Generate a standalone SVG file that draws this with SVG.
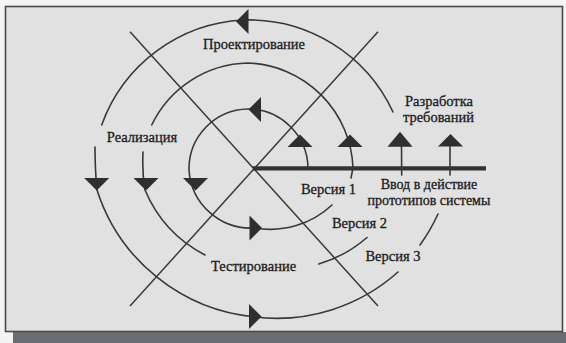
<svg xmlns="http://www.w3.org/2000/svg" xmlns:xlink="http://www.w3.org/1999/xlink" width="566" height="343" viewBox="0 0 566 343">
<style>
.ln{fill:none;stroke:#38383a;stroke-width:1.6;stroke-linecap:round}
.dg{fill:none;stroke:#3a3a3c;stroke-width:1.5}
.ax{fill:none;stroke:#333335;stroke-width:4.2}
.ar{fill:#2f2f31}
.t{font-family:"Liberation Serif","Times New Roman",serif;font-size:14.5px;fill:#1c1c1c;stroke:#1c1c1c;stroke-width:0.3;text-anchor:middle}
.s{font-size:14px}
</style>
<defs>
<path id="tri" d="M0,-6.5 L12.5,6 L-12.5,6 Z"/>
</defs>
<rect x="0" y="0" width="566" height="343" fill="#f4f4f4"/>
<rect x="13" y="332" width="553" height="11" fill="#6a6c71"/>
<g id="frame"><rect x="5.5" y="6.5" width="557" height="325" fill="#e1e1e1" stroke="#4a4a4c" stroke-width="1.6"/></g>
<g id="axes">
<line class="dg" x1="130" y1="31.7" x2="378" y2="306"/>
<line class="dg" x1="378" y1="31.7" x2="130" y2="306"/>
<line class="ax" x1="253" y1="168.3" x2="486" y2="168.3"/>
</g>
<g id="connectors">
<path class="ln" d="M308,168 A60,60 0 0 0 248,109 A60,60 0 0 0 189,170 A62,62 0 0 0 255,228 A90,90 0 0 0 332,205"/>
<path class="ln" d="M351,178 L353,168 A109,109 0 0 0 248,63 A109,109 0 0 0 151.7,125"/>
<path class="ln" d="M143,152 Q142,172 145,190 A130,130 0 0 0 205,255"/>
<path class="ln" d="M318.7,264 A130,130 0 0 0 367,237.5"/>
<path class="ln" d="M401.7,175 L401.5,146"/>
<path class="ln" d="M393,112 A159,159 0 0 0 243,20 A159,159 0 0 0 101.7,125"/>
<path class="ln" d="M95,147 Q95,170 97,190 A184,184 0 0 0 255,317 A182,182 0 0 0 398,272"/>
<path class="ln" d="M420,245 A184,184 0 0 0 438,214"/>
<path class="ln" d="M450,175 L450,146"/>
</g>
<g id="arrows" class="ar">
<use xlink:href="#tri" transform="translate(300,141)"/>
<use xlink:href="#tri" transform="translate(350,141)"/>
<use xlink:href="#tri" transform="translate(400,139.5) scale(1,1.2)"/>
<use xlink:href="#tri" transform="translate(450.5,140.5)"/>
<use xlink:href="#tri" transform="translate(96.7,184) rotate(180)"/>
<use xlink:href="#tri" transform="translate(146,184) rotate(180)"/>
<use xlink:href="#tri" transform="translate(195.5,184) rotate(180)"/>
<use xlink:href="#tri" transform="translate(242.5,21.5) rotate(-90)"/>
<use xlink:href="#tri" transform="translate(255,109.5) rotate(-90)"/>
<use xlink:href="#tri" transform="translate(255,316.5) rotate(90)"/>
<use xlink:href="#tri" transform="translate(255.5,228) rotate(90)"/>
</g>
<g id="labels">
<text class="t" x="254" y="49">Проектирование</text>
<text class="t" x="142" y="141.7">Реализация</text>
<text class="t" x="439" y="106">Разработка</text>
<text class="t" x="438.5" y="122">требований</text>
<text class="t" x="328.5" y="193.5">Версия 1</text>
<text class="t s" x="429" y="188.5">Ввод в действие</text>
<text class="t s" x="429" y="204.5">прототипов системы</text>
<text class="t" x="359.5" y="227.5">Версия 2</text>
<text class="t" x="393" y="261">Версия 3</text>
<text class="t" x="253.5" y="271">Тестирование</text>
</g>
</svg>
